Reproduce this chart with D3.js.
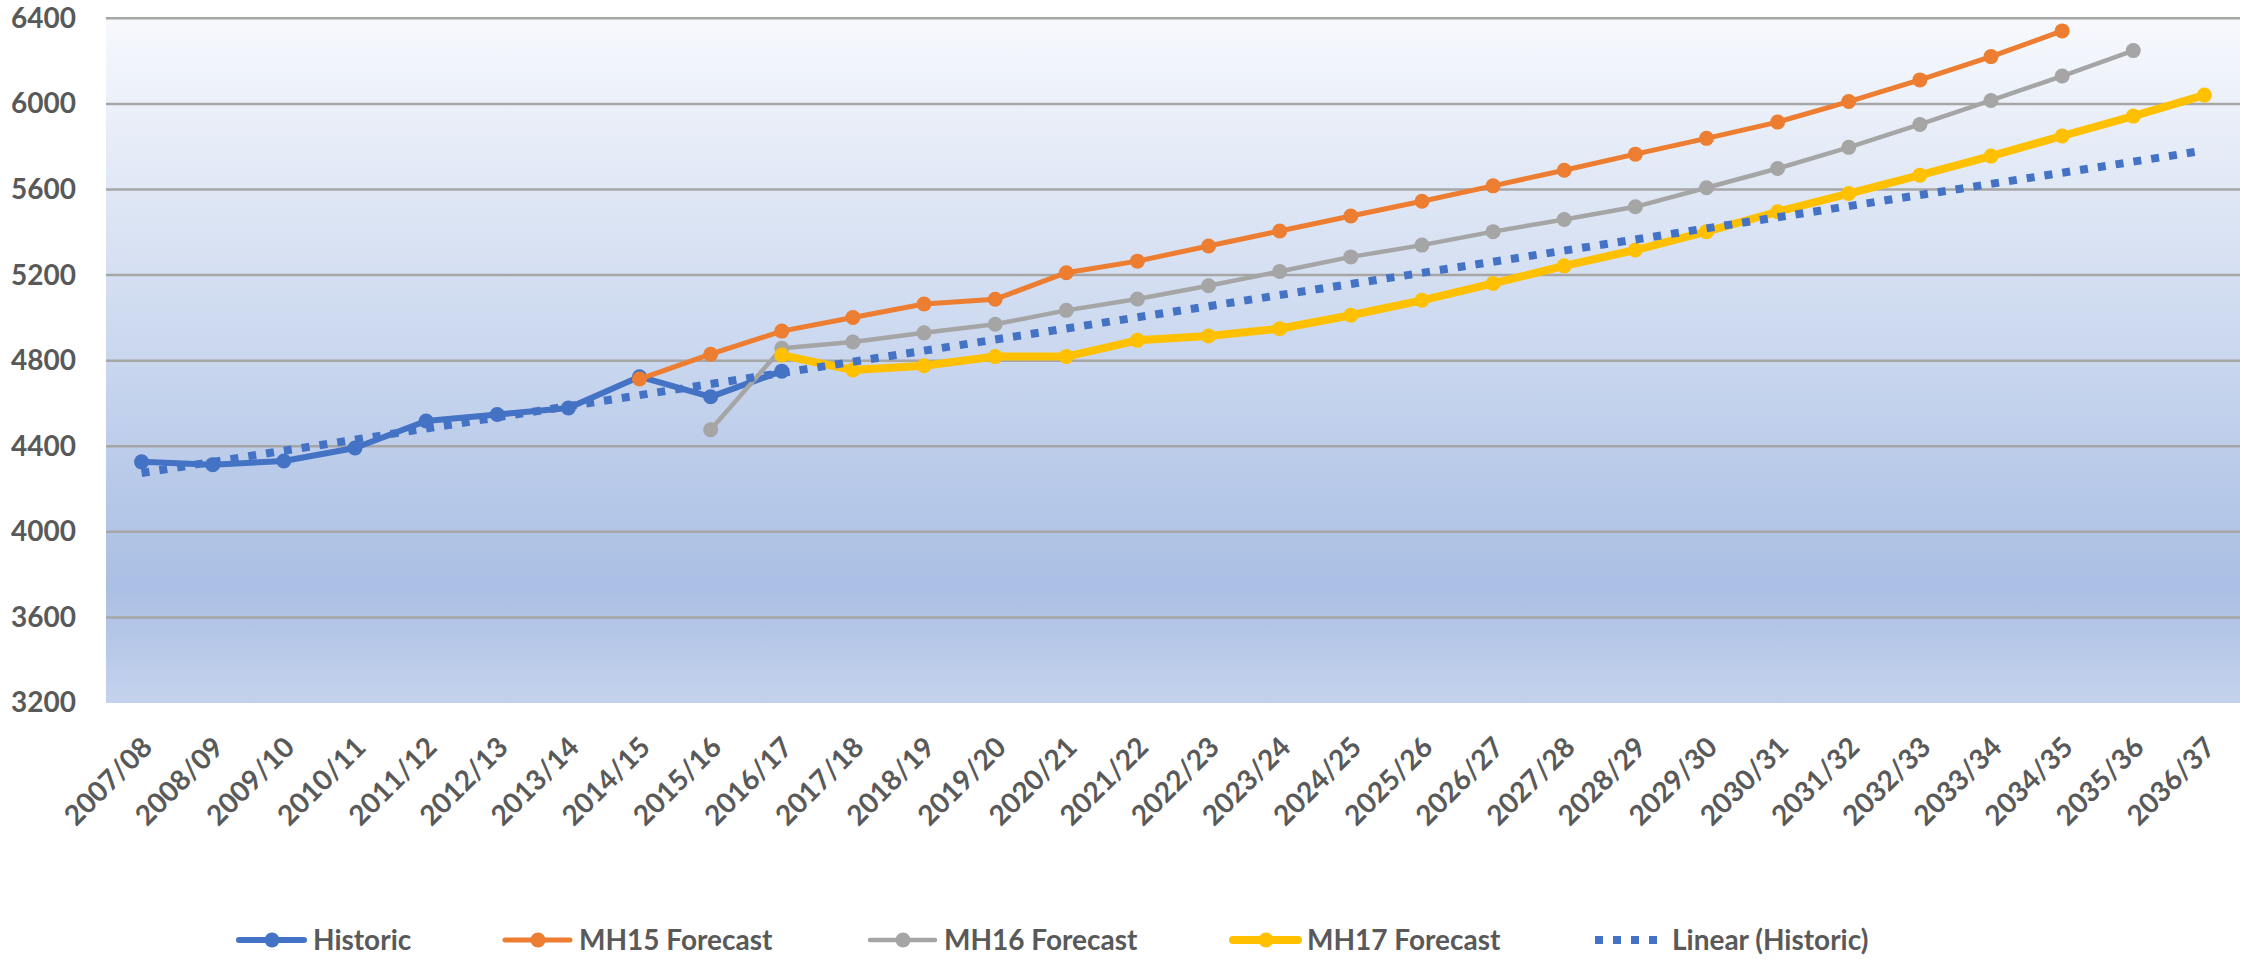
<!doctype html>
<html>
<head>
<meta charset="utf-8">
<style>
  body { margin: 0; background: #fff; }
  text { font-family: Lato, "Open Sans", sans-serif; font-weight: bold; fill: #595959; }
</style>
<script src="https://d3js.org/d3.v7.min.js"></script>
</head>
<body>
<svg width="2252" height="959"></svg>
<script>
// categories (financial years)
var years = ["2007/08","2008/09","2009/10","2010/11","2011/12","2012/13","2013/14","2014/15","2015/16","2016/17",
             "2017/18","2018/19","2019/20","2020/21","2021/22","2022/23","2023/24","2024/25","2025/26","2026/27",
             "2027/28","2028/29","2029/30","2030/31","2031/32","2032/33","2033/34","2034/35","2035/36","2036/37"];

var yTicks = [3200, 3600, 4000, 4400, 4800, 5200, 5600, 6000, 6400];

var historic = [4327, 4314, 4331, 4392, 4518, 4548, 4579, 4725, 4631, 4751,
                null, null, null, null, null, null, null, null, null, null,
                null, null, null, null, null, null, null, null, null, null];
var mh15 = [null, null, null, null, null, null, null, 4714, 4830, 4938,
            5002, 5065, 5087, 5211, 5265, 5336, 5406, 5476, 5545, 5617,
            5690, 5765, 5839, 5915, 6011, 6112, 6221, 6341, null, null];
var mh16 = [null, null, null, null, null, null, null, null, 4477, 4858,
            4887, 4930, 4970, 5035, 5088, 5150, 5217, 5285, 5340, 5403,
            5460, 5519, 5608, 5698, 5797, 5904, 6016, 6130, 6249, null];
var mh17 = [null, null, null, null, null, null, null, null, null, 4826,
            4756, 4776, 4819, 4819, 4895, 4915, 4949, 5012, 5082, 5161,
            5243, 5317, 5403, 5496, 5581, 5667, 5756, 5850, 5943, 6041];
// linear trend of historic, read at first and last category
var trendYears = ["2007/08", "2036/37"];
var trendVals = [4275, 5782];

var series = [
  {name: "Historic",     values: historic, color: "#4472C4", width: 6},
  {name: "MH15 Forecast", values: mh15,    color: "#ED7D31", width: 5},
  {name: "MH16 Forecast", values: mh16,    color: "#A5A5A5", width: 4.5},
  {name: "MH17 Forecast", values: mh17,    color: "#FFC000", width: 8}
];

var svg = d3.select("svg");
var plotL = 106, plotR = 2240, plotT = 18.3, plotB = 703;

var x = d3.scalePoint().domain(years).range([plotL, plotR]).padding(0.5);
var y = d3.scaleLinear().domain([3200, 6400]).range([plotB, plotT]);

// plot background gradient
var grad = svg.append("defs").append("linearGradient")
  .attr("id", "bg").attr("x1", 0).attr("y1", 0).attr("x2", 0).attr("y2", 1);
grad.append("stop").attr("offset", "0%").attr("stop-color", "#f7f9fd");
grad.append("stop").attr("offset", "83%").attr("stop-color", "#aabfe4");
grad.append("stop").attr("offset", "100%").attr("stop-color", "#c4d2ec");

svg.append("rect")
  .attr("x", plotL).attr("y", plotT)
  .attr("width", plotR - plotL).attr("height", plotB - plotT)
  .attr("fill", "url(#bg)");

// gridlines
svg.append("g").selectAll("line")
  .data(yTicks.filter(function(d) { return d > 3200; }))
  .enter().append("line")
  .attr("x1", plotL).attr("x2", plotR)
  .attr("y1", function(d) { return y(d); })
  .attr("y2", function(d) { return y(d); })
  .attr("stroke", "#a6a6a6").attr("stroke-width", 2.5);

// y axis labels
var yAxis = svg.append("g")
  .attr("transform", "translate(" + plotL + ",0)")
  .call(d3.axisLeft(y).tickValues(yTicks).tickFormat(d3.format("d")).tickSize(0).tickPadding(30));
yAxis.select(".domain").remove();
yAxis.selectAll("text").attr("font-size", 28).attr("fill", "#595959")
  .attr("font-family", "Lato").attr("font-weight", "bold");

// x axis labels
var xAxis = svg.append("g")
  .attr("transform", "translate(0," + plotB + ")")
  .call(d3.axisBottom(x).tickSize(0));
xAxis.select(".domain").remove();
xAxis.selectAll("text")
  .attr("font-size", 28).attr("fill", "#595959")
  .attr("font-family", "Lato").attr("font-weight", "bold")
  .attr("text-anchor", "end")
  .attr("y", 0).attr("dy", 0)
  .attr("transform", "translate(12,46) rotate(-45)");

// series lines and markers
series.forEach(function(s) {
  var pts = years.map(function(c, i) { return {c: c, v: s.values[i]}; })
                 .filter(function(d) { return d.v != null; });
  var line = d3.line()
    .x(function(d) { return x(d.c); })
    .y(function(d) { return y(d.v); });
  svg.append("path").datum(pts)
    .attr("d", line)
    .attr("fill", "none")
    .attr("stroke", s.color)
    .attr("stroke-width", s.width)
    .attr("stroke-linejoin", "round")
    .attr("stroke-linecap", "round");
  svg.append("g").selectAll("circle")
    .data(pts).enter().append("circle")
    .attr("cx", function(d) { return x(d.c); })
    .attr("cy", function(d) { return y(d.v); })
    .attr("r", 7.5)
    .attr("fill", s.color);
});

// trendline
svg.append("line")
  .attr("x1", x(trendYears[0])).attr("y1", y(trendVals[0]))
  .attr("x2", x(trendYears[1])).attr("y2", y(trendVals[1]))
  .attr("stroke", "#4472C4").attr("stroke-width", 8)
  .attr("stroke-dasharray", "8 10");

// legend
var legendX = [236, 502, 867, 1230, 1595];
var legendY = 940;
var legendItems = series.concat([{name: "Linear (Historic)", color: "#4472C4", width: 8, dotted: true}]);
var lg = svg.append("g");
legendItems.forEach(function(s, i) {
  var gx = legendX[i];
  var g = lg.append("g").attr("transform", "translate(" + gx + "," + legendY + ")");
  if (s.dotted) {
    g.append("line").attr("x1", 0).attr("x2", 68).attr("y1", 0).attr("y2", 0)
      .attr("stroke", s.color).attr("stroke-width", s.width)
      .attr("stroke-dasharray", "8 10");
  } else {
    g.append("line").attr("x1", 3).attr("x2", 68).attr("y1", 0).attr("y2", 0)
      .attr("stroke", s.color).attr("stroke-width", s.width)
      .attr("stroke-linecap", "round");
    g.append("circle").attr("cx", 36).attr("cy", 0).attr("r", 7.5).attr("fill", s.color);
  }
  g.append("text").attr("x", 77).attr("y", 10)
    .attr("font-size", 28)
    .text(s.name);
});
</script>
</body>
</html>
